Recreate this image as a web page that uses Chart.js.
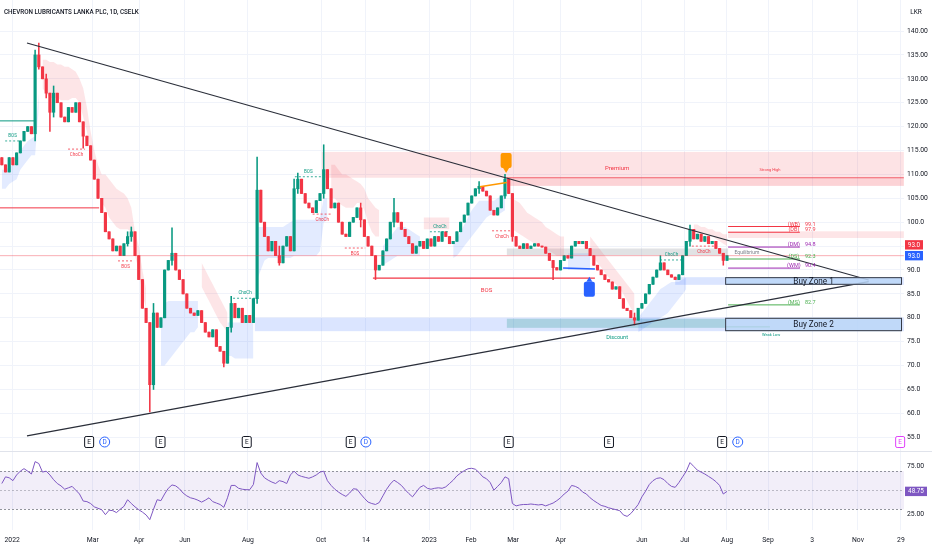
<!DOCTYPE html>
<html>
<head>
<meta charset="utf-8">
<script src="https://cdn.jsdelivr.net/npm/chart.js@4.4.0/dist/chart.umd.min.js"></script>
<style>
  html, body { margin: 0; padding: 0; background: #fff; }
  #wrap { position: relative; width: 932px; height: 550px; overflow: hidden; }
  #pricePane { position: absolute; left: 0; top: 0; width: 932px; height: 451px; }
  #rsiPane { position: absolute; left: 0; top: 451px; width: 932px; height: 99px; border-top: 1px solid #e0e3eb; box-sizing: border-box; }
</style>
</head>
<body>
<div id="wrap">
  <div id="pricePane"><canvas id="priceChart"></canvas></div>
  <div id="rsiPane"><canvas id="rsiChart"></canvas></div>
</div>
<script>
// ---- data (one candle per index) ----
const title = 'CHEVRON LUBRICANTS LANKA PLC, 1D, CSELK';
const currency = 'LKR';
const firstOpen = 113.5;
const closes = [
  112, 110.5, 113.5, 112, 114.5, 117, 119, 120, 118.5, 135,
  132.5, 130, 127, 123, 127, 125, 122, 121, 124, 123,
  125, 121, 118, 116, 113, 109, 105, 102, 98, 96.5,
  94, 95, 93, 95.5, 97, 98, 93, 88, 82, 79,
  66, 81, 78, 80, 90, 92, 93.5, 90, 88, 85,
  82, 81, 80.5, 81.5, 79, 77, 76, 77.5, 74, 73,
  70.5, 78, 83, 80, 82, 79, 80.5, 79, 84, 106.7,
  100, 97, 94, 96, 93, 91.5, 95, 97, 94, 107,
  109, 106, 104, 103, 102, 104.5, 106, 111, 107, 103,
  104, 100, 97.5, 97, 100, 101, 103, 100.5, 97, 95,
  93, 90, 91, 94, 96.5, 100, 102, 100, 98.5, 97,
  95.5, 93.5, 95, 96, 94.5, 96.5, 95, 97, 96, 98,
  97, 95.5, 96, 98, 100, 101.5, 104, 105.5, 107, 107.5,
  106.5, 105.5, 102.5, 101.5, 103, 105.5, 109, 106, 97, 95,
  94.5, 95.5, 94.5, 95, 95.5, 95, 94.8, 93.5, 92, 90.5,
  90, 92, 93, 92.5, 95, 96, 95.5, 96, 94.5, 93,
  91, 90, 89, 88, 87.5, 86, 86.5, 84, 82, 81.5,
  80, 79.5, 82, 83, 85, 87, 88.5, 90, 91.5, 90,
  89, 88.5, 88, 89, 93, 96, 98.5, 96.5, 97.5, 96,
  97, 95.5, 96, 94.5, 93.5, 92, 93
];
// [candle index, high, low] where a wick clearly sticks out
const wicks = [
  [9, 136, 117], [10, 137.5, 132], [12, 131, 126], [13, 127, 119], [14, 128.5, 122],
  [22, 121, 115.5], [34, 98, 95], [35, 99, 96], [40, 79, 60.3], [41, 83, 65],
  [46, 98.8, 91], [60, 72, 69.7], [62, 84.5, 77], [69, 113.6, 83], [75, 95, 91],
  [79, 109, 94], [80, 110.3, 106], [87, 116.2, 105], [97, 104, 99], [101, 93, 88],
  [106, 105, 99], [129, 108.5, 106], [136, 110, 105], [138, 106, 96], [149, 92, 88],
  [171, 81, 78.5], [178, 93, 90], [186, 99.4, 95], [195, 93, 91]
];
const rsi = [
  57, 64, 63, 60, 66, 70, 72.6, 70, 67, 80,
  78, 69, 70, 66, 61, 57, 54.5, 51, 52.5, 54,
  50, 46, 38.6, 38, 36, 32.5, 31, 29.5, 24.3, 29,
  28.5, 26.5, 30, 33, 40, 36, 32.5, 29.5, 27, 24,
  19, 30, 40, 39, 46, 52, 55.5, 54.5, 51.5, 47,
  44, 42, 41, 39.5, 37.5, 39.5, 42, 38, 36.5, 35,
  32, 42, 55, 55, 52, 51, 50.5, 50.5, 56, 79,
  68, 63, 60.5, 58.5, 57, 60, 59, 57, 66, 70,
  66, 64.5, 63.5, 62.5, 64, 66, 69, 70, 60, 55,
  51, 48, 45.5, 43.5, 47, 51.5, 51, 46, 41.5, 37.5,
  36, 35, 37, 44, 51, 56.5, 60.5, 58, 55, 50.5,
  46.5, 43, 48, 53, 55, 52, 51, 52, 52.5, 52,
  53.5, 57, 60.5, 65, 68, 70.5, 72.5, 73, 72, 68.5,
  64, 62, 58, 50, 54, 58, 64, 62, 36, 33.5,
  34.5, 35, 35, 35.5, 35, 34.5, 35, 33.5, 35, 36.5,
  39, 42, 46, 49, 55, 54, 52, 48, 46, 42,
  39, 36.5, 34, 33, 31.5, 30.5, 29.5, 28.5, 24, 22.5,
  25.5, 30, 35, 43, 49, 56, 60, 62.4, 63, 61,
  57, 54, 53, 58, 64, 70, 79, 75, 71, 69,
  67, 64.5, 62, 59, 55, 46, 48.75
];
const rsiLevels = [70, 50, 30];
const tickPos = [2.8, 24.6, 37.1, 49.5, 66.5, 86.3, 98.4, 115.5, 126.8, 138.2, 151.1, 173.0, 184.6, 196.0, 207.1, 219.0, 231.4, 243.0];
const tickText = ['2022', 'Mar', 'Apr', 'Jun', 'Aug', 'Oct', '14', '2023', 'Feb', 'Mar', 'Apr', 'Jun', 'Jul', 'Aug', 'Sep', '3', 'Nov', '29'];
const priceTicks = [55, 60, 65, 70, 75, 80, 85, 90, 95, 100, 105, 110, 115, 120, 125, 130, 135, 140];
const rsiTicks = [25, 75];

// trend cloud (start index, upper edge, lower edge)
const pinkCloud = [
  { start: 11, top: [134, 134, 133.5, 133.5, 133, 133, 132.5, 132.5, 132, 131.5, 130, 128, 124, 119, 115, 112, 110, 110, 109, 108, 107, 106.5, 106, 105, 103, 98, 95, 90, 86],
               bot: [128, 127, 126, 126, 126, 125.5, 125.5, 125.5, 126, 126, 125, 122, 119, 115, 111, 108, 104, 103, 101, 100, 99, 98.5, 98.5, 98.5, 98, 93, 90, 85, 82] },
  { start: 54, top: [91.5, 90, 88.5, 87, 85.5, 84, 82.5, 81], bot: [86.5, 85, 83.5, 82, 80.5, 79, 78, 77] },
  { start: 89, top: [112, 112, 111, 110, 110, 109.5, 109, 108.5, 108, 107, 105, 104, 103, 102.5],
               bot: [105, 105, 104, 103.5, 103, 103, 103, 104, 104, 102.5, 100, 98, 97, 97] },
  { start: 114, top: [101, 101, 101, 101, 101, 101, 101, 101], bot: [98.5, 98.5, 98.5, 98.5, 98.5, 98.5, 98.5, 98.5] },
  { start: 138, top: [105, 104.5, 104, 103, 102, 101.5, 101, 100.5, 100, 99, 98.5, 98, 97.5, 97, 97],
                bot: [98.5, 98, 97.5, 97, 96.5, 96, 95.5, 95, 95, 94.5, 94, 93.5, 93, 93, 93] },
  { start: 159, top: [97, 96, 95, 94, 93, 92, 91, 90, 89, 88, 87, 86, 85],
                bot: [93.5, 92.5, 91.5, 90.5, 89.5, 88.5, 87.5, 87, 86, 85, 83.5, 82, 81] },
  { start: 187, top: [99.5, 99.5, 99, 99, 98.5, 98.5, 98, 98, 97.5, 97.5], bot: [98, 98, 97.5, 97.5, 97, 97, 96.5, 96, 95.5, 95] }
];
const blueCloud = [
  { start: 0, top: [111, 111, 111.5, 112, 112.5, 115, 116, 117, 117.5, 118, 127], bot: [107, 107, 108, 108.5, 109, 111, 112, 113, 114, 114, 124] },
  { start: 43, top: [78, 83, 83.5, 83.5, 83.5, 83.5, 83.5, 83.5, 83.5, 83.5, 83.5], bot: [70, 70, 71, 72, 73, 74, 75, 76, 77, 77, 78] },
  { start: 61, top: [79, 79, 79, 79, 79, 79, 79, 79], bot: [72, 72, 71.5, 71.5, 71.5, 71.5, 71.5, 71.5] },
  { start: 69, top: [99, 99, 99, 99, 99, 99, 99, 99, 99.5, 100, 100.5, 100.5, 100.5, 100.5, 100.5, 100.5, 100.5, 101, 105, 105],
               bot: [88, 90, 92, 92.5, 92.5, 92.5, 92.5, 92.5, 92.5, 92.5, 93, 93, 93, 93, 93, 93, 93, 94, 100, 100.5] },
  { start: 103, top: [95, 96, 97, 98, 99, 99, 99, 98.5, 98, 97.5, 97], bot: [91, 91.5, 92, 92.5, 93, 93, 93, 93, 93, 93, 93] },
  { start: 122, top: [95.5, 96.5, 98, 99.5, 101, 102.5, 103.5, 104.5, 104.5, 104.5, 104.5, 104.5, 105, 105.5, 106],
                bot: [92.5, 93, 94, 95, 96, 97, 98, 99, 100, 101, 101.5, 101.5, 101.5, 102, 102.5] },
  { start: 153, top: [93.5, 93.5, 93.5, 93.5, 93.5, 93.5, 93.5], bot: [90, 90, 90, 90, 90, 90, 90] },
  { start: 172, top: [80, 81, 82, 83, 84, 85, 86, 86.5, 87, 87.5, 87.5, 87.5, 88, 88.5],
                bot: [77, 77.5, 78, 78.5, 79, 79.5, 80, 80.5, 81, 82, 83, 84, 85, 86] }
];

// converging trend lines [index, price]
const upperTrend = [[6.8, 137.5], [234.3, 87.9]];
const lowerTrend = [[6.8, 55.3], [234.3, 87.55]];
const swingHighLink = [[129.2, 107.4], [136.5, 108.3]];
const swingLowLink = [[151.7, 90.4], [160.3, 90.2]];

// horizontal levels
const levelName  = ['prevHigh', 'lastPrice', 'rangeHigh', 'bosMajor', 'WB', 'DB', 'DM', 'DS', 'WM', 'MS', 'weakLow', 'strongHigh'];
const levelPrice = [103, 93.0, 121.2, 88.3, 99.1, 97.9, 94.8, 92.3, 90.4, 82.7, 78.1, 109.3];
const levelFrom  = [-0.5, -0.5, -0.5, 100.3, 196.3, 196.3, 196.3, 196.3, 196.3, 196.3, 195.5, 136.5];
const levelTo    = [26.3, 243.8, 8.8, 160.3, 215.7, 215.7, 215.7, 215.7, 215.7, 215.7, 207.6, 243.8];

// shaded zones
const zoneName = ['premium', 'strongHighStrip', 'equilibrium', 'buyBand2', 'discount', 'buyBand1', 'weeklyBand'];
const zoneFrom = [86.5, 136.5, 136.5, 68.4, 136.5, 182, 196.3];
const zoneTo   = [243.8, 243.8, 196.3, 243.8, 195.5, 243.8, 243.8];
const zoneLow  = [109.3, 107.6, 93.1, 77.2, 77.9, 86.9, 96.7];
const zoneHigh = [114.7, 109.3, 94.5, 80.0, 79.8, 88.5, 98.1];

const boxName = ['Buy Zone 1', 'Buy Zone 2'];
const boxFrom = [195.5, 195.5];
const boxTo   = [243.3, 243.3];
const boxLow  = [86.9, 77.2];
const boxHigh = [88.5, 80.0];

// market structure breaks
const structLabel = ['BOS', 'ChoCh', 'BOS', 'ChoCh', 'BOS', 'ChoCh', 'BOS', 'ChoCh', 'ChoCh', 'ChoCh', 'ChoCh'];
const structSide  = ['bull', 'bear', 'bear', 'bull', 'bull', 'bear', 'bear', 'bull', 'bear', 'bull', 'bear'];
const structFrom  = [0.9, 17.9, 31.4, 62.5, 79.2, 84, 92.7, 115.7, 132.5, 177.9, 186.5];
const structTo    = [4.9, 22.5, 35.5, 69, 86.5, 89.2, 98.2, 121.1, 137.9, 184.1, 193];
const structLevel = [117.0, 115.3, 91.9, 84.1, 109.5, 101.7, 94.6, 98.0, 98.2, 92.1, 95.0];

const noteText  = ['Premium', 'Strong High', 'Equilibrium', 'Discount', 'Weak Low', 'BOS'];
const noteIndex = [166.3, 207.6, 201.4, 166.3, 207.9, 131];
const notePrice = [111.3, 110.9, 93.6, 75.8, 76.4, 85.8];

const eventPos  = [23.6, 27.8, 42.9, 66.2, 94.3, 98.4, 137.0, 164.1, 194.7, 198.9, 242.8];
const eventKind = ['E', 'D', 'E', 'E', 'E', 'D', 'E', 'E', 'E', 'D', 'E'];
const signalHigh = [136.3, 110.3];
const signalLow  = [158.8, 88.6];

// ---- build ----
Chart.defaults.font.family = "Roboto, 'Liberation Sans', sans-serif";
Chart.defaults.color = '#131722';
const UP = '#089981', DOWN = '#f23645';
const X_MIN = -0.49, X_MAX = 243.84;
const gridColor = '#f0f3fa';

const opens = closes.map((c, k) => k === 0 ? firstOpen : closes[k - 1]);
const highs = closes.map((c, k) => Math.max(c, opens[k]));
const lows = closes.map((c, k) => Math.min(c, opens[k]));
wicks.forEach(([k, h, l]) => { highs[k] = Math.max(highs[k], h); lows[k] = Math.min(lows[k], l); });
const candleColor = closes.map((c, k) => c >= opens[k] ? UP : DOWN);

function cloudSets(list, color) {
  const out = [];
  list.forEach(seg => {
    out.push({ type: 'line', data: seg.top.map((v, k) => ({ x: seg.start + k, y: v })),
      borderWidth: 0, pointRadius: 0, fill: false, order: 10 });
    out.push({ type: 'line', data: seg.bot.map((v, k) => ({ x: seg.start + k, y: v })),
      borderWidth: 0, pointRadius: 0, fill: '-1', backgroundColor: color, order: 10 });
  });
  return out;
}

const levelStyle = {
  prevHigh: ['#f23645', 1], lastPrice: ['rgba(242,54,69,0.4)', 1], rangeHigh: ['#089981', 1],
  bosMajor: ['#f23645', 1.2], WB: ['#f23645', 1], DB: ['#f23645', 1], DM: ['#9c27b0', 1],
  DS: ['#4caf50', 1], WM: ['#9c27b0', 1], MS: ['#4caf50', 1], weakLow: ['#4caf50', 1],
  strongHigh: ['rgba(242,54,69,0.75)', 1]
};
const levelSets = levelName.map((n, k) => ({
  type: 'line', data: [{ x: levelFrom[k], y: levelPrice[k] }, { x: levelTo[k], y: levelPrice[k] }],
  borderColor: levelStyle[n][0], borderWidth: levelStyle[n][1], pointRadius: 0, order: 1
}));
const structSets = structLabel.map((n, k) => ({
  type: 'line', data: [{ x: structFrom[k], y: structLevel[k] }, { x: structTo[k], y: structLevel[k] }],
  borderColor: structSide[k] === 'bull' ? UP : DOWN, borderWidth: 0.8, borderDash: [2, 2], pointRadius: 0, order: 1
}));
const lineSet = (pts, color, w) => ({
  type: 'line', data: pts.map(([x, y]) => ({ x, y })), borderColor: color, borderWidth: w, pointRadius: 0, order: 0
});

const zoneColor = {
  premium: 'rgba(242,54,69,0.14)', strongHighStrip: 'rgba(242,54,69,0.22)', equilibrium: 'rgba(120,123,134,0.22)',
  buyBand2: 'rgba(41,98,255,0.17)', discount: 'rgba(0,137,123,0.22)', buyBand1: 'rgba(41,98,255,0.17)',
  weeklyBand: 'rgba(242,54,69,0.13)'
};

function rr(ctx, x, y, w, h, r) {
  ctx.beginPath();
  ctx.moveTo(x + r, y); ctx.lineTo(x + w - r, y); ctx.quadraticCurveTo(x + w, y, x + w, y + r);
  ctx.lineTo(x + w, y + h - r); ctx.quadraticCurveTo(x + w, y + h, x + w - r, y + h);
  ctx.lineTo(x + r, y + h); ctx.quadraticCurveTo(x, y + h, x, y + h - r);
  ctx.lineTo(x, y + r); ctx.quadraticCurveTo(x, y, x + r, y); ctx.closePath();
}
function text(ctx, s, x, y, color, size, align, weight) {
  ctx.fillStyle = color;
  ctx.font = (weight || 400) + ' ' + size + "px Roboto, 'Liberation Sans', sans-serif";
  ctx.textAlign = align || 'center';
  ctx.textBaseline = 'middle';
  ctx.fillText(s, x, y);
}

const overlay = {
  id: 'overlay',
  beforeDatasetsDraw(c) {
    const { ctx, chartArea: a, scales: { x, y } } = c;
    ctx.save();
    ctx.beginPath(); ctx.rect(a.left, a.top, a.width, a.height); ctx.clip();
    zoneName.forEach((n, k) => {
      const x1 = x.getPixelForValue(zoneFrom[k]), x2 = x.getPixelForValue(zoneTo[k]);
      const y1 = y.getPixelForValue(zoneHigh[k]), y2 = y.getPixelForValue(zoneLow[k]);
      ctx.fillStyle = zoneColor[n];
      ctx.fillRect(x1, y1, x2 - x1, y2 - y1);
    });
    ctx.restore();
  },
  afterDatasetsDraw(c) {
    const { ctx, chartArea: a, scales: { x, y } } = c;
    ctx.save();
    // buy zone boxes
    boxName.forEach((n, k) => {
      const x1 = x.getPixelForValue(boxFrom[k]), x2 = x.getPixelForValue(boxTo[k]);
      const y1 = y.getPixelForValue(boxHigh[k]), y2 = y.getPixelForValue(boxLow[k]);
      ctx.fillStyle = 'rgba(187,215,248,0.85)';
      ctx.fillRect(x1, y1, x2 - x1, y2 - y1);
      ctx.strokeStyle = '#363a45'; ctx.lineWidth = 1;
      ctx.strokeRect(x1 + 0.5, y1 + 0.5, x2 - x1 - 1, y2 - y1 - 1);
      text(ctx, n, (x1 + x2) / 2, (y1 + y2) / 2 + 0.5, '#131722', 8.2);
    });
    // structure labels
    structLabel.forEach((s, k) => {
      const cx = (x.getPixelForValue(structFrom[k]) + x.getPixelForValue(structTo[k])) / 2;
      const ly = y.getPixelForValue(structLevel[k]);
      const bull = structSide[k] === 'bull';
      text(ctx, s, cx, ly + (bull ? -5 : 6), bull ? UP : DOWN, 4.5);
    });
    // notes
    const noteStyle = { 'Premium': [DOWN, 6], 'Strong High': [DOWN, 4], 'Equilibrium': ['#787b86', 5],
      'Discount': [UP, 5.5], 'Weak Low': [UP, 4], 'BOS': [DOWN, 6] };
    noteText.forEach((s, k) => {
      text(ctx, s, x.getPixelForValue(noteIndex[k]), y.getPixelForValue(notePrice[k]), noteStyle[s][0], noteStyle[s][1]);
    });
    // right-side level tags
    const tagColor = { WB: DOWN, DB: DOWN, DM: '#9c27b0', DS: '#4caf50', WM: '#9c27b0', MS: '#4caf50' };
    levelName.forEach((n, k) => {
      if (!tagColor[n]) return;
      const ex = x.getPixelForValue(levelTo[k]);
      const ly = y.getPixelForValue(levelPrice[k]) - 2.2;
      text(ctx, '(' + n + ')', ex - 6, ly, tagColor[n], 5.5);
      text(ctx, levelPrice[k].toFixed(1), ex + 5, ly, tagColor[n], 5.5, 'left');
    });
    // signal flags
    const flag = (idx, p, color, down) => {
      const cx = x.getPixelForValue(idx), py = y.getPixelForValue(p);
      const w = 11, h = 15;
      const top = down ? py - 5 - h : py + 5;
      ctx.fillStyle = color;
      rr(ctx, cx - w / 2, top, w, h, 2); ctx.fill();
      ctx.beginPath();
      if (down) { ctx.moveTo(cx - 3, top + h); ctx.lineTo(cx + 3, top + h); ctx.lineTo(cx, py); }
      else { ctx.moveTo(cx - 3, top); ctx.lineTo(cx + 3, top); ctx.lineTo(cx, py); }
      ctx.fill();
    };
    flag(signalHigh[0], signalHigh[1], '#ff9800', true);
    flag(signalLow[0], signalLow[1], '#2962ff', false);
    // earnings / dividend markers
    const ey = a.bottom - 9;
    const lastIdx = closes.length - 1;
    eventPos.forEach((p, k) => {
      const ex = x.getPixelForValue(p);
      const future = p > lastIdx;
      if (eventKind[k] === 'E') {
        ctx.fillStyle = '#fff';
        rr(ctx, ex - 4.5, ey - 5.5, 9, 11, 1.5); ctx.fill();
        ctx.strokeStyle = future ? '#e040fb' : '#131722'; ctx.lineWidth = 1; ctx.stroke();
        text(ctx, 'E', ex, ey + 0.3, future ? '#e040fb' : '#131722', 6.5);
      } else {
        ctx.fillStyle = '#fff';
        ctx.beginPath(); ctx.arc(ex, ey, 5, 0, Math.PI * 2); ctx.fill();
        ctx.strokeStyle = '#2962ff'; ctx.lineWidth = 1; ctx.stroke();
        text(ctx, 'D', ex, ey + 0.3, '#2962ff', 6.5);
      }
    });
    ctx.restore();
  },
  afterDraw(c) {
    const { ctx, chartArea: a, scales: { y } } = c;
    ctx.save();
    text(ctx, title, 4, 12, '#131722', 6.3, 'left', 500);
    text(ctx, currency, a.right + 12, 12, '#131722', 6.5, 'center');
    const last = closes[closes.length - 1];
    const py = y.getPixelForValue(last);
    ctx.fillStyle = '#2962ff'; ctx.fillRect(a.right + 1, py - 4.7, 18, 9.4);
    text(ctx, last.toFixed(1), a.right + 10, py + 0.3, '#fff', 6.3);
    ctx.fillStyle = '#f23645'; ctx.fillRect(a.right + 1, py - 15.5, 18, 9.4);
    text(ctx, last.toFixed(1), a.right + 10, py - 10.5, '#fff', 6.3);
    ctx.restore();
  }
};

const tickFont = { size: 6.8 };
const noPad = s => { s.paddingTop = 0; s.paddingBottom = 0; s.paddingLeft = 0; s.paddingRight = 0; };
const xBase = {
  type: 'linear', min: X_MIN, max: X_MAX, offset: false,
  afterBuildTicks(s) { s.ticks = tickPos.map(v => ({ value: v })); },
  grid: { color: gridColor, drawTicks: false, offset: false },
  border: { display: false }
};

new Chart(document.getElementById('priceChart'), {
  type: 'bar',
  data: {
    datasets: [
      ...cloudSets(pinkCloud, 'rgba(242,54,69,0.13)'),
      ...cloudSets(blueCloud, 'rgba(41,98,255,0.13)'),
      { type: 'bar', data: closes.map((c, k) => ({ x: k, y: [lows[k], highs[k]] })), backgroundColor: candleColor,
        barThickness: 0.9, grouped: false, order: 3 },
      { type: 'bar', data: closes.map((c, k) => ({ x: k, y: [opens[k], c] })), backgroundColor: candleColor,
        barThickness: 2.5, minBarLength: 1, grouped: false, order: 2 },
      ...levelSets,
      ...structSets,
      lineSet(swingHighLink, '#ff9800', 1.5),
      lineSet(swingLowLink, '#2962ff', 1.5),
      lineSet(upperTrend, '#2a2e39', 1.2),
      lineSet(lowerTrend, '#2a2e39', 1.2)
    ]
  },
  options: {
    responsive: true, maintainAspectRatio: false, animation: false,
    layout: { padding: 0 },
    plugins: { legend: { display: false }, tooltip: { enabled: false } },
    scales: {
      x: { ...xBase, ticks: { display: false }, afterFit(s) { s.height = 0; noPad(s); } },
      y: {
        position: 'right', min: 52.13, max: 146.49,
        afterBuildTicks(s) { s.ticks = priceTicks.map(v => ({ value: v })); },
        ticks: { font: tickFont, color: '#131722', padding: 3, callback: v => v >= 105 ? v.toFixed(2) : v.toFixed(1) },
        grid: { color: gridColor, drawTicks: false },
        border: { display: false },
        afterFit(s) { s.width = 28; noPad(s); }
      }
    }
  },
  plugins: [overlay]
});

const rsiOverlay = {
  id: 'rsiOverlay',
  beforeDatasetsDraw(c) {
    const { ctx, chartArea: a, scales: { y } } = c;
    ctx.save();
    const y1 = y.getPixelForValue(rsiLevels[0]), y2 = y.getPixelForValue(rsiLevels[2]);
    ctx.fillStyle = 'rgba(126,87,194,0.1)';
    ctx.fillRect(a.left, y1, a.width, y2 - y1);
    rsiLevels.forEach((lv, k) => {
      const ly = Math.round(y.getPixelForValue(lv)) + 0.5;
      ctx.strokeStyle = k === 1 ? 'rgba(120,123,134,0.45)' : 'rgba(120,123,134,0.8)';
      ctx.setLineDash([2, 2]); ctx.lineWidth = 1;
      ctx.beginPath(); ctx.moveTo(a.left, ly); ctx.lineTo(a.right, ly); ctx.stroke();
    });
    ctx.restore();
  },
  afterDraw(c) {
    const { ctx, chartArea: a, scales: { y } } = c;
    const last = rsi[rsi.length - 1];
    const py = y.getPixelForValue(last);
    ctx.save();
    ctx.fillStyle = '#7e57c2'; ctx.fillRect(a.right + 1, py - 4.7, 22, 9.4);
    text(ctx, last.toFixed(2), a.right + 12, py + 0.3, '#fff', 6.3);
    ctx.restore();
  }
};

new Chart(document.getElementById('rsiChart'), {
  type: 'line',
  data: {
    datasets: [{
      data: rsi.map((v, k) => ({ x: k, y: v })), borderColor: '#7e57c2', borderWidth: 1,
      pointRadius: 0, tension: 0, fill: false
    }]
  },
  options: {
    responsive: true, maintainAspectRatio: false, animation: false,
    layout: { padding: 0 },
    plugins: { legend: { display: false }, tooltip: { enabled: false } },
    scales: {
      x: {
        ...xBase,
        ticks: { font: tickFont, color: '#131722', padding: 6, autoSkip: false, maxRotation: 0,
          callback: (v, i) => tickText[i] },
        afterFit(s) { s.height = 20; noPad(s); }
      },
      y: {
        position: 'right', min: 8.2, max: 90.1,
        afterBuildTicks(s) { s.ticks = rsiTicks.map(v => ({ value: v })); },
        ticks: { font: tickFont, color: '#131722', padding: 3, callback: v => v.toFixed(2) },
        grid: { display: false, drawTicks: false },
        border: { display: false },
        afterFit(s) { s.width = 28; noPad(s); }
      }
    }
  },
  plugins: [rsiOverlay]
});
</script>
</body>
</html>
